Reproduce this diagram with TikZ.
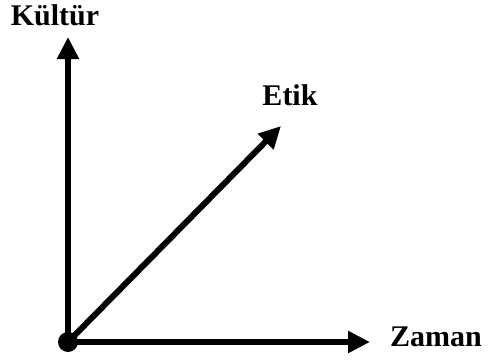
\documentclass[tikz,border=0pt]{standalone}
\usepackage{fontspec}
\setmainfont{Liberation Serif}
\usetikzlibrary{arrows.meta}
\begin{document}
\begin{tikzpicture}[x=1pt,y=-1pt,line join=round,>={Triangle[length=22pt,width=21pt]}]
	\tikzset{every node/.style={font=\fontsize{30}{36}\selectfont\bfseries,inner sep=0pt},
		axis/.style={line width=6pt,->}}
	\useasboundingbox (0,0) rectangle (488,362);
	\coordinate (O) at (68,342);
	\coordinate (kulturtip) at (68,37);
	\coordinate (zamantip) at (370,342);
	\coordinate (etiktip) at (281,126);
	\draw[axis] (O)--(kulturtip);
	\draw[axis] (O)--(zamantip);
	\draw[axis] (O)--(etiktip);
	\fill (O) circle (10);
	\node[anchor=base] (kultur) at (55,25) {Kültür};
	\node[anchor=base] (etik) at (290,105) {Etik};
	\node[anchor=base] (zaman) at (436,346) {Zaman};
\end{tikzpicture}
\end{document}
